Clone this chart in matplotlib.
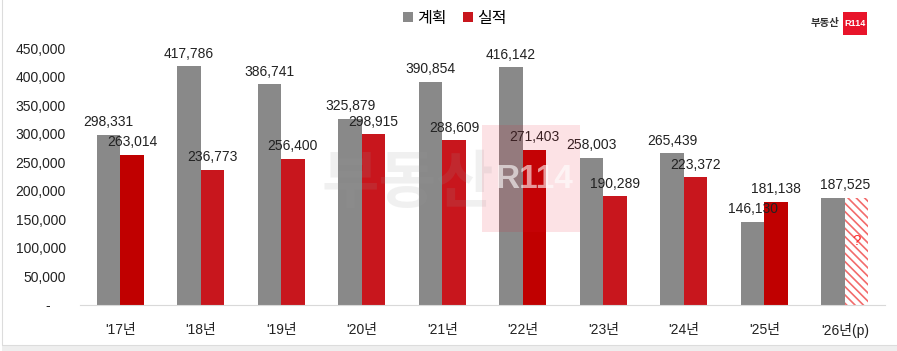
import matplotlib
matplotlib.use("Agg")
import matplotlib.pyplot as plt
import numpy as np
from matplotlib.patches import Patch, Rectangle
from matplotlib.ticker import FuncFormatter

plt.rcParams["font.family"] = ["Liberation Sans", "Noto Sans CJK KR", "DejaVu Sans"]
plt.rcParams["hatch.linewidth"] = 1.2

years = ["'17년", "'18년", "'19년", "'20년", "'21년", "'22년", "'23년", "'24년", "'25년", "'26년(p)"]
plan = [298331, 417786, 386741, 325879, 390854, 416142, 258003, 265439, 146130, 187525]
actual = [263014, 236773, 256400, 298915, 288609, 271403, 190289, 223372, 181138]
forecast_placeholder = 187525  # '26 actual is unknown, drawn hatched at plan height

GRAY = "#898989"
RED = "#c8161d"
RED_DARK = "#c00000"
actual_colors = [RED_DARK, RED, RED, RED, RED, RED_DARK, RED, RED, RED_DARK]

fig = plt.figure(figsize=(8.97, 3.51), dpi=100)
W, H = 897, 351
ax = fig.add_axes([80 / W, 1 - 305 / H, (885 - 80) / W, (305 - 48) / H])

x = np.arange(len(years))
bw = 0.29

ax.bar(x - bw / 2, plan, width=bw, color=GRAY, zorder=2)
ax.bar(x[:len(actual)] + bw / 2, actual, width=bw, color=actual_colors, zorder=2)
ax.bar(x[-1] + bw / 2, forecast_placeholder, width=bw, facecolor="white",
       edgecolor="#f26b6b", linewidth=0, hatch="\\\\\\\\", zorder=2)
ax.text(x[-1] + bw / 2, forecast_placeholder * 0.6, "?", color="#ff2a2a",
        ha="center", va="center", fontsize=11, zorder=3)

lab_kw = dict(textcoords="offset points", ha="center", va="bottom", fontsize=10, color="#222222", zorder=4)
for i in range(len(years) - 1):
    ax.annotate(f"{plan[i]:,}", (x[i] - bw / 2, plan[i]), xytext=(0, 4), **lab_kw)
    ax.annotate(f"{actual[i]:,}", (x[i] + bw / 2, actual[i]), xytext=(0, 4), **lab_kw)
ax.annotate(f"{plan[-1]:,}", (x[-1], plan[-1]), xytext=(0, 4), **lab_kw)

ax.set_xlim(-0.5, len(years) - 0.5)
ax.set_ylim(0, 450000)
ax.set_yticks(np.arange(0, 450001, 50000))
ax.yaxis.set_major_formatter(FuncFormatter(lambda v, p: "-    " if v == 0 else f"{int(v):,}"))
ax.set_xticks(x)
ax.set_xticklabels(years)
ax.tick_params(axis="both", length=0, labelsize=10, colors="#222222")
ax.tick_params(axis="y", pad=10)
ax.tick_params(axis="x", pad=13)
for s in ["top", "right", "left"]:
    ax.spines[s].set_visible(False)
ax.spines["bottom"].set_color("#d9d9d9")
ax.spines["bottom"].set_zorder(5)

# watermark
fig.text(408 / W, 1 - 183 / H, "부동산", fontsize=45, fontweight="bold", color="#9a9a9a",
         alpha=0.14, ha="center", va="center", family=["Noto Sans CJK KR"], zorder=6)
fig.patches.append(Rectangle((482 / W, 1 - 232 / H), 98 / W, 107 / H, transform=fig.transFigure,
                             facecolor="#e8142a", alpha=0.12, edgecolor="none", zorder=6))
fig.text(535 / W, 1 - 180 / H, "R114", fontsize=24, fontweight="bold", color="white",
         alpha=0.6, ha="center", va="center", zorder=7)

# logo
fig.text(839 / W, 1 - 23 / H, "부동산", fontsize=7.5, fontweight="bold", color="#333333",
         ha="right", va="center", family=["Noto Sans CJK KR"])
fig.patches.append(Rectangle((843 / W, 1 - 35 / H), 24 / W, 23 / H, transform=fig.transFigure,
                             facecolor="#e8142a", edgecolor="none"))
fig.text(855 / W, 1 - 23.5 / H, "R114", fontsize=6.5, fontweight="bold", color="white",
         ha="center", va="center")

# frame
fig.patches.append(Rectangle((2 / W, 0), 1, 6 / H, transform=fig.transFigure,
                             facecolor="#eeeeee", edgecolor="none", zorder=0))
fig.patches.append(Rectangle((2 / W, 6 / H), 1, 1, transform=fig.transFigure,
                             facecolor="none", edgecolor="#dcdcdc", linewidth=0.8, zorder=0))

handles = [Patch(facecolor=GRAY, label="계획"), Patch(facecolor=RED, label="실적")]
fig.legend(handles=handles, loc="center", bbox_to_anchor=(455 / W, 1 - 18 / H), ncol=2,
           frameon=False, fontsize=11.5, handlelength=0.6, handleheight=0.6,
           handletextpad=0.3, columnspacing=1.0)

fig.savefig("out.png", dpi=100)
